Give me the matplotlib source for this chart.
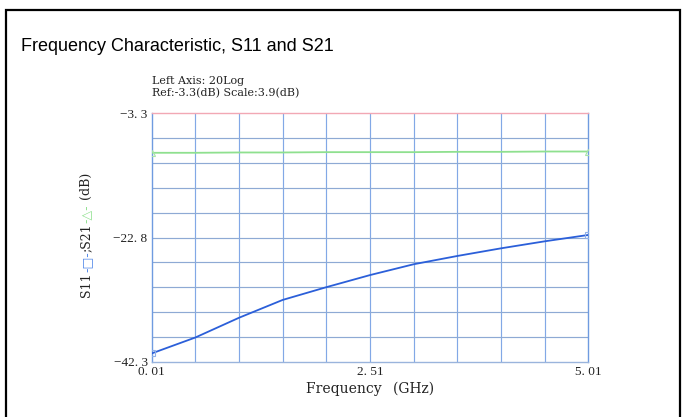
import numpy as np
import matplotlib
matplotlib.use("Agg")
import matplotlib.pyplot as plt
from matplotlib.patches import Rectangle
from matplotlib.transforms import IdentityTransform

# ---- data ----
freq_ghz = [0.01, 0.51, 1.01, 1.51, 2.01, 2.51, 3.01, 3.51, 4.01, 4.51, 5.01]
s11_db = [-41.0, -38.5, -35.4, -32.6, -30.6, -28.7, -27.0, -25.7, -24.5, -23.4, -22.4]
s21_db = [-9.5, -9.5, -9.45, -9.45, -9.4, -9.4, -9.4, -9.35, -9.35, -9.3, -9.3]
x_ticks = [0.01, 2.51, 5.01]
x_tick_labels = ["0. 01", "2. 51", "5. 01"]
y_ticks = [-3.3, -22.8, -42.3]
y_tick_labels = ["\u22123. 3", "\u221222. 8", "\u221242. 3"]
x_grid = [0.01 + 0.5 * i for i in range(11)]
y_grid = [-3.3 - 3.9 * i for i in range(11)]

title = "Frequency Characteristic, S11 and S21"
info1 = "Left Axis: 20Log"
info2 = "Ref:-3.3(dB) Scale:3.9(dB)"
xlabel = "Frequency\u2002 (GHz)"

W, H = 688, 417
fig = plt.figure(figsize=(W / 100, H / 100), dpi=100)
fig.patch.set_facecolor("white")

L, R, T, B = 151.7, 588.3, 113.3, 361.7
ax = fig.add_axes([L / W, 1 - B / H, (R - L) / W, (B - T) / H])

ax.set_xlim(0.01, 5.01)
ax.set_ylim(-42.3, -3.3)

vcol = "#82a8e6"
hcol = "#8eaad4"
for xv in x_grid[1:-1]:
    ax.axvline(xv, color=vcol, lw=0.85, zorder=1)
for yv in y_grid[1:-1]:
    ax.axhline(yv, color=hcol, lw=0.85, zorder=1)

ax.plot(freq_ghz, s21_db, color="#8fe08f", lw=1.3, zorder=3,
        marker="^", markevery=[0, len(freq_ghz) - 1], markersize=5,
        markerfacecolor="none", markeredgecolor="#a8e4a8", markeredgewidth=0.8)
ax.plot(freq_ghz, s11_db, color="#2b5fd9", lw=1.3, zorder=4,
        marker="s", markevery=[0, len(freq_ghz) - 1], markersize=5,
        markerfacecolor="none", markeredgecolor="#90b0e8", markeredgewidth=0.8)

ax.spines["top"].set_color("#f2a8b4")
ax.spines["left"].set_color("#6f9be0")
ax.spines["right"].set_color("#6f9be0")
ax.spines["bottom"].set_color("#9ab4dc")
for s in ax.spines.values():
    s.set_linewidth(1.0)

ax.set_xticks(x_ticks)
ax.set_xticklabels(x_tick_labels, family="Liberation Serif", fontsize=9.5, color="#222222")
ax.set_yticks(y_ticks)
ax.set_yticklabels(y_tick_labels, family="Liberation Serif", fontsize=9.5, color="#222222")
ax.tick_params(length=0, pad=3)

ax.set_xlabel(xlabel, family=["DejaVu Serif", "DejaVu Sans"], fontsize=10,
              color="#222222", labelpad=3)

# title and info lines
fig.text(21 / W, 1 - 51 / H, title, family="Liberation Sans", fontsize=13,
         ha="left", va="baseline", color="black")
fig.text(152 / W, 1 - 80.7 / H, info1, family="DejaVu Serif", fontsize=8,
         ha="left", va="center", color="#222222")
fig.text(152 / W, 1 - 93.5 / H, info2, family="DejaVu Serif", fontsize=8,
         ha="left", va="center", color="#222222")

# frame
fig.patches.append(Rectangle((6 / W, -0.1), (679.5 - 6) / W, 1 - 10.3 / H + 0.1,
                             transform=fig.transFigure, fill=False, lw=1.6,
                             ec="black"))

# multi-coloured rotated y label
pieces = [("S11", "#222222", "DejaVu Serif"),
          ("-\u25a1-", "#4f86e8", "DejaVu Sans"),
          (";S21", "#222222", "DejaVu Serif"),
          ("-\u25b3-", "#8fe08f", "DejaVu Sans"),
          (" (dB)", "#222222", "DejaVu Serif")]
renderer = fig.canvas.get_renderer()
txts = []
heights = []
for s, c, fam in pieces:
    t = fig.text(0, 0, s, rotation=90, color=c, family=fam, fontsize=9,
                 ha="center", va="bottom", transform=IdentityTransform())
    txts.append(t)
    heights.append(t.get_window_extent(renderer).height)
total = sum(heights)
xc = 86.7
yc = H - 235
y = yc - total / 2
for t, h in zip(txts, heights):
    t.set_position((xc, y))
    y += h

fig.savefig("out.png", dpi=100)
